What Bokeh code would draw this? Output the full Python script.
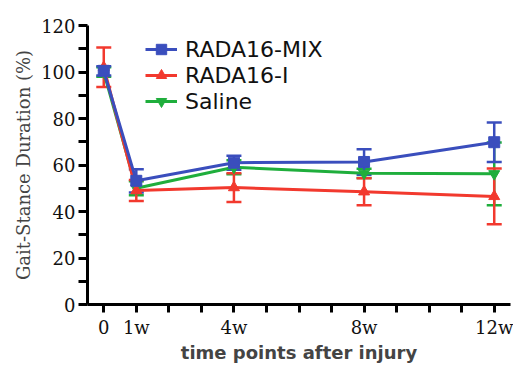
from bokeh.plotting import figure
from bokeh.models import (ColumnDataSource, Whisker, TeeHead, FixedTicker, Range1d,
                          Legend, LegendItem)
from bokeh.embed import file_html
from bokeh.resources import INLINE

weeks = [0, 1, 4, 8, 12]
x_tick_labels = {0: "0", 1: "1w", 4: "4w", 8: "8w", 12: "12w"}

mix_mean = [100.5, 53.2, 61.0, 61.3, 69.8]
mix_err = [2.0, 5.0, 3.0, 5.5, 8.5]
rada_mean = [102.0, 49.0, 50.3, 48.5, 46.5]
rada_err = [8.5, 4.5, 6.2, 5.8, 12.0]
saline_mean = [100.0, 50.0, 59.0, 56.4, 56.2]
saline_err = [2.0, 3.0, 3.0, 2.0, 13.5]

series = [
    ("Saline", saline_mean, saline_err, "#1fae3c", "inverted_triangle"),
    ("RADA16-I", rada_mean, rada_err, "#f2392e", "triangle"),
    ("RADA16-MIX", mix_mean, mix_err, "#3a4ebd", "square"),
]

p = figure(width=513, height=365, output_backend="svg", toolbar_location=None,
           x_range=Range1d(-0.5, 12.5), y_range=Range1d(0, 120),
           min_border_left=87, min_border_top=25, min_border_right=3,
           min_border_bottom=58)
p.outline_line_color = None
p.xgrid.visible = False
p.ygrid.visible = False

items = {}
for name, mean, err, color, marker in series:
    src = ColumnDataSource(dict(
        x=weeks, y=mean,
        upper=[m + e for m, e in zip(mean, err)],
        lower=[m - e for m, e in zip(mean, err)]))
    w = Whisker(base="x", upper="upper", lower="lower", source=src,
                dimension="height", line_color=color, line_width=2.5,
                upper_head=TeeHead(size=15, line_color=color, line_width=2.5),
                lower_head=TeeHead(size=15, line_color=color, line_width=2.5))
    p.add_layout(w)
    l = p.line("x", "y", source=src, line_color=color, line_width=3)
    s = p.scatter("x", "y", source=src, marker=marker, size=11,
                  fill_color=color, line_color=color)
    items[name] = LegendItem(label=name, renderers=[l, s])

legend = Legend(items=[items["RADA16-MIX"], items["RADA16-I"], items["Saline"]],
                location=(58, 190), padding=0, spacing=0, margin=0,
                glyph_width=32, glyph_height=26, label_standoff=8,
                label_text_font="DejaVu Sans", label_text_font_size="22px",
                label_text_color="#111111", border_line_color=None,
                background_fill_alpha=0)
p.add_layout(legend)

# axes
p.xaxis.ticker = FixedTicker(ticks=list(range(13)))
p.xaxis.major_label_overrides = {k: x_tick_labels.get(k, "") for k in range(13)}
p.xaxis.minor_tick_line_color = None
p.yaxis.ticker = FixedTicker(ticks=[0, 20, 40, 60, 80, 100, 120],
                             minor_ticks=[10, 30, 50, 70, 90, 110])
for ax in (p.xaxis[0], p.yaxis[0]):
    ax.axis_line_width = 3
    ax.axis_line_color = "black"
    ax.major_tick_line_width = 3
    ax.major_tick_in = 0
    ax.major_tick_out = 9
    ax.major_label_text_font = "DejaVu Serif"
    ax.major_label_text_font_size = "18px"
    ax.major_label_text_color = "#111111"
p.yaxis.minor_tick_line_width = 3
p.yaxis.minor_tick_in = 0
p.yaxis.minor_tick_out = 9
p.yaxis.minor_tick_line_color = "black"
p.yaxis.major_label_standoff = 3
p.xaxis.major_label_standoff = 4
p.xaxis.major_tick_out = 8

p.yaxis.axis_label = "Gait-Stance Duration (%)"
p.yaxis.axis_label_text_font = "DejaVu Serif"
p.yaxis.axis_label_text_font_style = "normal"
p.yaxis.axis_label_text_font_size = "18px"
p.yaxis.axis_label_standoff = 4
p.xaxis.axis_label = "time points after injury"
p.xaxis.axis_label_text_font = "DejaVu Sans"
p.xaxis.axis_label_text_font_style = "bold"
p.xaxis.axis_label_text_font_size = "18px"
p.xaxis.axis_label_standoff = 1

open("out.html", "w").write(file_html(p, INLINE))
